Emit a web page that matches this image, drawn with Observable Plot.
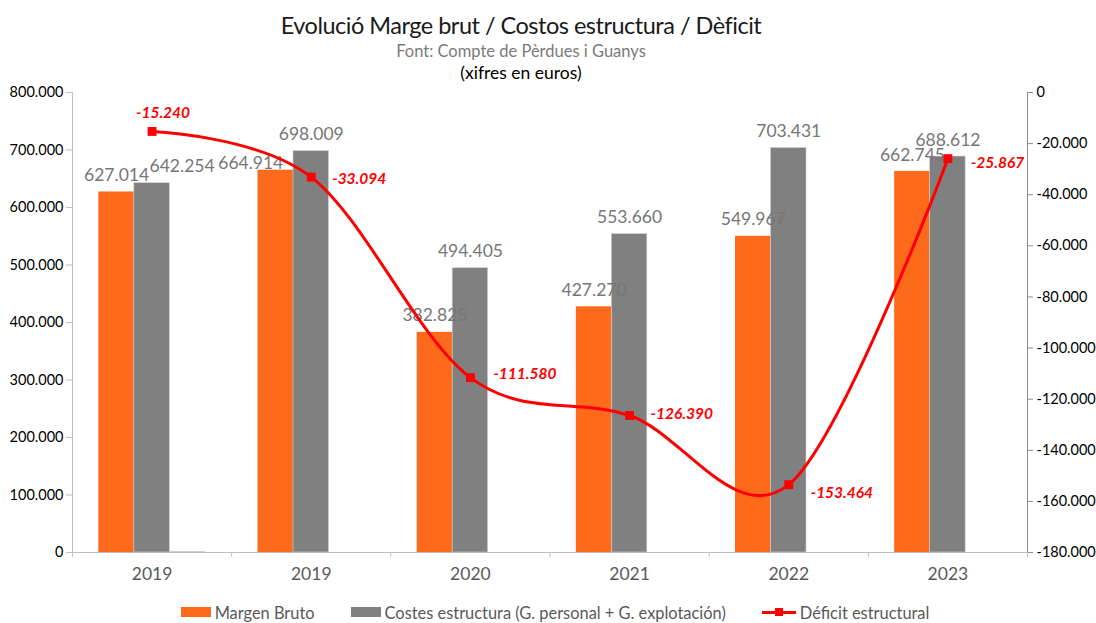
<!DOCTYPE html>
<html>
<head>
<meta charset="utf-8">
<script src="https://cdn.jsdelivr.net/npm/d3@7"></script>
<script src="https://cdn.jsdelivr.net/npm/@observablehq/plot@0.6"></script>
<style>
  body { margin: 0; background: #fff; font-family: Lato, "Open Sans", sans-serif; }
  #wrap { width: 1096px; }
  .hdr { width: 1042px; text-align: center; white-space: nowrap; }
  #title { padding-top: 10px; font-size: 23.5px; line-height: 30px; color: #1a1a1a; letter-spacing: -0.5px; }
  #sub { font-size: 16.5px; line-height: 22px; color: #7a7a7a; }
  #note { font-size: 17.5px; line-height: 22px; color: #000; }
  #legend { display: flex; justify-content: center; align-items: center; padding-left: 14px; height: 40px; font-size: 16.4px; color: #595959; }
  .item { display: flex; align-items: center; margin: 0 18px; }
  .sw { width: 30px; height: 10px; margin-right: 4px; }
  .ln { position: relative; width: 34px; height: 3px; background: #ff0000; margin-right: 4px; }
  .ln::after { content: ""; position: absolute; left: 13px; top: -3px; width: 8px; height: 8px; background: #ff0000; }
</style>
</head>
<body>
<div id="wrap">
  <div class="hdr" id="title">Evolució Marge brut / Costos estructura / Dèficit</div>
  <div class="hdr" id="sub">Font: Compte de Pèrdues i Guanys</div>
  <div class="hdr" id="note">(xifres en euros)</div>
  <div id="chart"></div>
  <div id="legend">
    <div class="item"><div class="sw" style="background:#fd6a1c"></div>Margen Bruto</div>
    <div class="item"><div class="sw" style="background:#808080"></div>Costes estructura (G. personal + G. explotación)</div>
    <div class="item"><div class="ln"></div>Déficit estructural</div>
  </div>
</div>
<script>
// ---- data ----
const years = ["2019", "2019", "2020", "2021", "2022", "2023"];
const margenBruto = [627014, 664914, 382825, 427270, 549967, 662745];
const costesEstructura = [642254, 698009, 494405, 553660, 703431, 688612];
const altres = [1500, 0, 0, 0, 0, 0];
const deficit = [-15240, -33094, -111580, -126390, -153464, -25867];
const leftTicks = [0, 100000, 200000, 300000, 400000, 500000, 600000, 700000, 800000];
const rightTicks = [0, -20000, -40000, -60000, -80000, -100000, -120000, -140000, -160000, -180000];

// ---- helpers ----
const fmt = d3.formatLocale({decimal: ",", thousands: ".", grouping: [3], currency: ["", "€"], minus: "-"}).format(",d");
const LMAX = 800000, RMIN = -180000;
const toLeft = d => (d - RMIN) * LMAX / (0 - RMIN);
const fromLeft = v => (Math.round(v * (0 - RMIN) / LMAX + RMIN) || 0);

const rows = years.map((year, i) => ({
  i, year,
  margen: margenBruto[i],
  costes: costesEstructura[i],
  altres: altres[i],
  deficit: deficit[i],
  defY: toLeft(deficit[i])
}));

const bw = 0.223; // bar width in category units
const g0 = -1.5 * bw;

// label nudges (styling only)
const margenNudge = {1: [-25, 10]};
const costesNudge = {0: [30, 0]};
const defNudge = {0: [11, -18, "middle"], 1: [21, 2], 2: [23, -4], 3: [21, -1], 4: [22, 8], 5: [23, 4]};

const barLabel = (key, nudge) => rows.map(d => ({
  i: d.i + (key === "margen" ? g0 + bw / 2 : g0 + 1.5 * bw),
  v: d[key],
  dxp: (nudge[d.i] || [0, 0])[0],
  dyp: (nudge[d.i] || [0, 0])[1]
}));

const chart = Plot.plot({
  width: 1096,
  height: 508,
  marginTop: 8,
  marginBottom: 40,
  marginLeft: 72,
  marginRight: 69,
  style: {fontFamily: "Lato, 'Open Sans', sans-serif", background: "#fff"},
  x: {domain: [-0.5, 5.5]},
  y: {domain: [0, LMAX]},
  marks: [
    Plot.rect(rows, {x1: d => d.i + g0, x2: d => d.i + g0 + bw, y1: 0, y2: "margen", fill: "#fd6a1c"}),
    Plot.rect(rows, {x1: d => d.i + g0 + bw, x2: d => d.i + g0 + 2 * bw, y1: 0, y2: "costes", fill: "#808080", stroke: "#d0d0d0", strokeWidth: 0.6}),
    Plot.rect(rows.filter(d => d.altres > 0), {x1: d => d.i + g0 + 2 * bw, x2: d => d.i + g0 + 3 * bw, y1: 0, y2: "altres", fill: "#c8c8c8"}),
    Plot.ruleY([0], {stroke: "#bfbfbf", strokeWidth: 1}),
    Plot.ruleX([-0.5], {stroke: "#bfbfbf", strokeWidth: 1}),
    Plot.ruleX([5.5], {stroke: "#8c8c8c", strokeWidth: 1}),
    Plot.axisY({ticks: leftTicks, tickFormat: fmt, tickSize: 6, tickPadding: 3, stroke: "#bfbfbf", fill: "#000", fontSize: 14.5, label: null}),
    Plot.axisY({anchor: "right", ticks: rightTicks.map(toLeft), tickFormat: v => fmt(fromLeft(v)), tickSize: 5, tickPadding: 4, stroke: "#8c8c8c", fill: "#000", fontSize: 14.5, label: null}),
    Plot.axisX({ticks: [-0.5, 0.5, 1.5, 2.5, 3.5, 4.5, 5.5], tickFormat: () => "", tickSize: 5, stroke: "#bfbfbf", label: null}),
    Plot.axisX({ticks: d3.range(years.length), tickFormat: i => years[i], tickSize: 0, tickPadding: 15, fill: "#595959", fontSize: 17.5, label: null}),
    // bar value labels
    ...["margen", "costes"].map(key => {
      const data = barLabel(key, key === "margen" ? margenNudge : costesNudge);
      return data.map(d => Plot.text([d], {x: "i", y: "v", text: dd => fmt(dd.v), dx: d.dxp, dy: -16.5 + d.dyp, lineAnchor: "middle", fill: "#767676", fontSize: 17.5}));
    }).flat(),
    // deficit line
    Plot.line(rows, {x: "i", y: "defY", stroke: "#ff0000", strokeWidth: 3, curve: "cardinal"}),
    Plot.dot(rows, {x: "i", y: "defY", symbol: "square", r: 5, fill: "#ff0000", stroke: "none"}),
    ...rows.map(d => {
      const n = defNudge[d.i];
      return Plot.text([d], {x: "i", y: "defY", text: dd => fmt(dd.deficit), dx: n[0], dy: n[1], textAnchor: n[2] || "start", lineAnchor: "middle", fill: "#ff0000", fontSize: 15.5, fontWeight: "bold", fontStyle: "italic"});
    })
  ]
});
document.getElementById("chart").appendChild(chart);
</script>
</body>
</html>
